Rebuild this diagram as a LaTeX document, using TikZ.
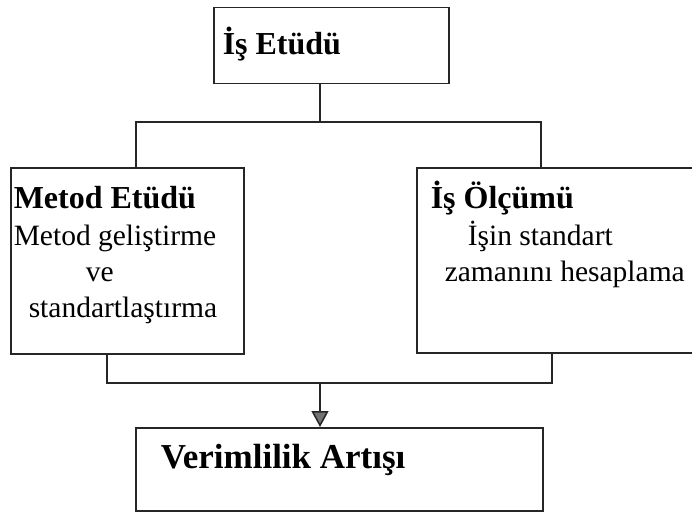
\documentclass[tikz,border=0pt]{standalone}
\usepackage{fontspec}
\setmainfont{Liberation Serif}
\usetikzlibrary{positioning,arrows.meta}

\begin{document}
\begin{tikzpicture}[>={Triangle[width=17pt,length=16pt,fill=black!55]}, box/.style={draw, rectangle, inner sep=0pt, line width=1.5pt}, txt/.style={anchor=base west, inner sep=0pt}, hdr/.style={txt, font=\fontsize{32}{36}\bfseries\selectfont}, line width=1.5pt, draw=black!85, font=\fontsize{29.5}{36}\selectfont]
	\useasboundingbox (0pt,0pt) rectangle (692pt,-513pt);
	% boxes
	\draw (213.0pt, -7.0pt)node[box, anchor=north west, minimum width=235pt, minimum height=76pt](is){};
	\draw (10.0pt, -167.0pt)node[box, anchor=north west, minimum width=233pt, minimum height=186pt](metod){};
	\draw (416.0pt, -167.0pt)node[box, anchor=north west, minimum width=330pt, minimum height=185pt](olcum){};
	\draw (135.0pt, -427.0pt)node[box, anchor=north west, minimum width=407pt, minimum height=83pt](verim){};
	% texts
	\draw (222.0pt, -55.0pt)node[hdr](isT){İş Etüdü};
	\draw (13.0pt, -208.0pt)node[hdr](metodT){Metod Etüdü};
	\draw (13.0pt, -245.0pt)node[txt](metodA){Metod geliştirme};
	\draw (85.0pt, -281.0pt)node[txt](metodB){ve};
	\draw (28.0pt, -317.0pt)node[txt](metodC){standartlaştırma};
	\draw (430.0pt, -208.0pt)node[hdr](olcumT){İş Ölçümü};
	\draw (467.0pt, -245.0pt)node[txt](olcumA){İşin standart};
	\draw (444.0pt, -281.0pt)node[txt](olcumB){zamanını hesaplama};
	\draw (160.0pt, -468.0pt)node[hdr, font=\fontsize{35}{38}\bfseries\selectfont](verimT){Verimlilik Artışı};
	% connectors
	\coordinate (split) at (320pt,-122pt);
	\coordinate (splitL) at (136pt,-122pt);
	\coordinate (splitR) at (541pt,-122pt);
	\coordinate (join) at (320pt,-383pt);
	\coordinate (joinL) at (107pt,-383pt);
	\coordinate (joinR) at (552pt,-383pt);
	\draw (is.south -| split) -- (split);
	\draw (metod.north -| splitL) -- (splitL) -- (splitR) -- (olcum.north -| splitR);
	\draw (metod.south -| joinL) -- (joinL) -- (joinR) -- (olcum.south -| joinR);
	\draw[->] (join) -- (verim.north -| join);
\end{tikzpicture}
\end{document}
